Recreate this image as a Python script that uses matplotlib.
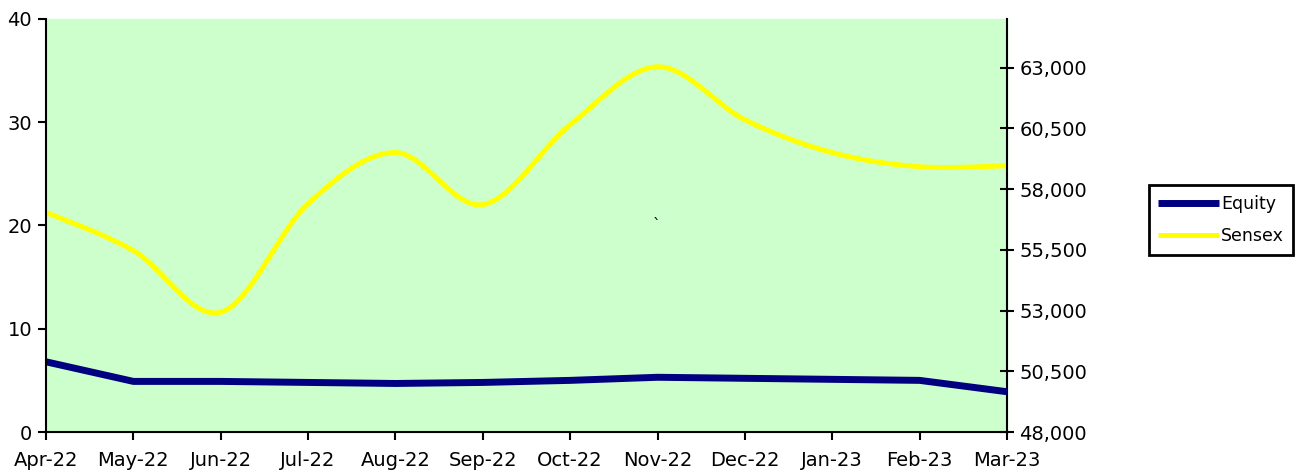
import numpy as np
import matplotlib.pyplot as plt

months = ['Apr-22', 'May-22', 'Jun-22', 'Jul-22', 'Aug-22', 'Sep-22',
          'Oct-22', 'Nov-22', 'Dec-22', 'Jan-23', 'Feb-23', 'Mar-23']
equity = [6.8, 4.9, 4.9, 4.8, 4.7, 4.8, 5.0, 5.3, 5.2, 5.1, 5.0, 3.9]
sensex = [57040, 55470, 52930, 57400, 59500, 57360, 60650, 63030, 60850, 59500, 58920, 58960]
right_ticks = [48000, 50500, 53000, 55500, 58000, 60500, 63000]

plt.rcParams['font.family'] = ['DejaVu Sans']


def smooth(x, y, n=30):
    # excel-like smoothed line: cubic bezier between points
    x = np.asarray(x, float)
    y = np.asarray(y, float)
    xs, ys = [], []
    for i in range(len(x) - 1):
        p0 = i - 1 if i > 0 else i
        p3 = i + 2 if i + 2 < len(x) else i + 1
        c1x = x[i] + (x[i + 1] - x[p0]) / 6
        c1y = y[i] + (y[i + 1] - y[p0]) / 6
        c2x = x[i + 1] - (x[p3] - x[i]) / 6
        c2y = y[i + 1] - (y[p3] - y[i]) / 6
        t = np.linspace(0, 1, n)
        xs.append((1-t)**3*x[i] + 3*(1-t)**2*t*c1x + 3*(1-t)*t**2*c2x + t**3*x[i+1])
        ys.append((1-t)**3*y[i] + 3*(1-t)**2*t*c1y + 3*(1-t)*t**2*c2y + t**3*y[i+1])
    return np.concatenate(xs), np.concatenate(ys)


fig = plt.figure(figsize=(12.98, 4.76), dpi=100)
rect = [46/1298, 44/476, 961/1298, 413/476]
fig.patches.append(plt.Rectangle(rect[:2], rect[2], rect[3],
                                 transform=fig.transFigure, color='#CCFFCC', zorder=-1))
ax = fig.add_axes(rect)
ax2 = ax.twinx()
ax.patch.set_visible(False)
ax2.patch.set_visible(False)
ax2.set_zorder(0)
ax.set_zorder(1)

xx = np.arange(len(months))
sx, sy = smooth(xx, sensex)
l2, = ax2.plot(sx, sy, color='#FFFF00', lw=3.6, label='Sensex', solid_capstyle='butt')
l1, = ax.plot(xx, equity, color='#000080', lw=5, label='Equity', solid_capstyle='butt')

ax.set_xlim(0, 11)
ax.set_ylim(0, 40)
ax2.set_ylim(48000, 65000)
ax.set_xticks(xx, months)
ax.set_yticks([0, 10, 20, 30, 40])
ax2.set_yticks(right_ticks, ['{:,}'.format(v) for v in right_ticks])

for a in (ax, ax2):
    a.spines['top'].set_visible(False)
    for s in a.spines.values():
        s.set_linewidth(1.5)
ax.spines['right'].set_visible(False)
ax2.spines['left'].set_visible(False)
ax2.spines['bottom'].set_visible(False)
ax.tick_params(axis='both', labelsize=14, width=1.5, length=6, direction='out', pad=4)
ax.tick_params(axis='x', pad=8)
ax2.tick_params(axis='y', labelsize=14, width=1.5, length=10, direction='inout', pad=4)

leg = fig.legend([l1, l2], ['Equity', 'Sensex'], loc='center',
                 bbox_to_anchor=(1221/1298, 1 - 220/476),
                 frameon=True, fancybox=False, edgecolor='black', framealpha=1,
                 fontsize=12.5, handlelength=3.5, handletextpad=0.1, borderpad=0.55,
                 labelspacing=0.85, borderaxespad=0)
leg.get_frame().set_linewidth(2)

fig.text(657/1298, 1 - 226/476, '`', fontsize=11, ha='center', va='center', color='black')

fig.savefig('out.png', dpi=100)
